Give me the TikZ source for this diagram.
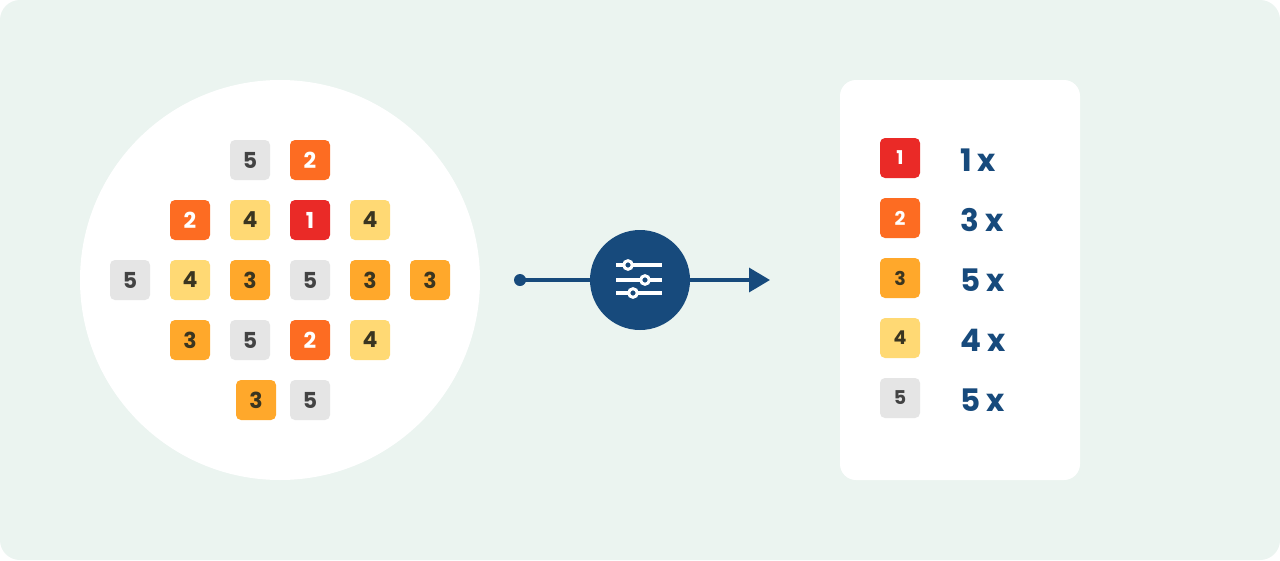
\documentclass[tikz,border=0pt]{standalone}
\usepackage{fontspec}
\setmainfont{Poppins}
\usetikzlibrary{positioning}
\usetikzlibrary{arrows.meta}

\definecolor{bgmint}{HTML}{EBF4F0}
\definecolor{navy}{HTML}{174A7C}
\definecolor{cone}{HTML}{EA2A27}
\definecolor{ctwo}{HTML}{FD6C22}
\definecolor{cthree}{HTML}{FFA82B}
\definecolor{cfour}{HTML}{FFD974}
\definecolor{cfive}{HTML}{E5E5E5}
\definecolor{darknum}{HTML}{3A3520}
\definecolor{graynum}{HTML}{434343}

\tikzset{
	tile/.style={minimum size=40pt, inner sep=0pt, outer sep=0pt, rounded corners=5pt,
		font=\bfseries\fontsize{22}{22}\selectfont},
	tone/.style={tile, fill=cone, text=white},
	ttwo/.style={tile, fill=ctwo, text=white},
	tthree/.style={tile, fill=cthree, text=darknum},
	tfour/.style={tile, fill=cfour, text=darknum},
	tfive/.style={tile, fill=cfive, text=graynum},
	small/.style={font=\bfseries\fontsize{19}{19}\selectfont},
	count/.style={anchor=west, text=navy, inner sep=0pt,
		font=\bfseries\fontsize{31}{31}\selectfont},
	flow/.style={draw=navy, line width=3.5pt}
}

\begin{document}
\begin{tikzpicture}[x=1pt, y=-1pt, node distance=20pt]
	\useasboundingbox (0,0) rectangle (1280,560);
	\fill[white] (0,0) rectangle (1280,560);
	\fill[bgmint, rounded corners=20pt] (0,0) rectangle (1280,560);
	\fill[white] (280,280) circle (200);
	\fill[white, rounded corners=16pt] (840,80) rectangle (1080,480);

	% bag of tiles
	\node [tfive] (a1) at (250,160) {5};
	\node [ttwo, right=of a1] (a2) {2};
	\node [ttwo] (b1) at (190,220) {2};
	\node [tfour, right=of b1] (b2) {4};
	\node [tone, right=of b2] (b3) {1};
	\node [tfour, right=of b3] (b4) {4};
	\node [tfive] (c1) at (130,280) {5};
	\node [tfour, right=of c1] (c2) {4};
	\node [tthree, right=of c2] (c3) {3};
	\node [tfive, right=of c3] (c4) {5};
	\node [tthree, right=of c4] (c5) {3};
	\node [tthree, right=of c5] (c6) {3};
	\node [tthree] (d1) at (190,340) {3};
	\node [tfive, right=of d1] (d2) {5};
	\node [ttwo, right=of d2] (d3) {2};
	\node [tfour, right=of d3] (d4) {4};
	\node [tthree] (e1) at (256,400) {3};
	\node [tfive] (e2) at (310,400) {5};

	% filter
	\coordinate (start) at (520,280);
	\coordinate (stop) at (770,280);
	\node [circle, fill=navy, minimum size=100pt, inner sep=0pt] (filter) at (640,280) {};
	\fill[navy] (start) circle (6);
	\draw [flow] (start) -- (filter);
	\draw [flow, -{Triangle[length=21pt, width=24pt]}] (filter) -- (stop);
	\begin{scope}[shift={(filter.center)}, white, line width=3.5pt]
		\draw (-24,-15) -- (22,-15);
		\draw (-24,0) -- (22,0);
		\draw (-24,13) -- (22,13);
		\draw [fill=navy, line width=3pt] (-12,-15) circle (4.3);
		\draw [fill=navy, line width=3pt] (5,0) circle (4.3);
		\draw [fill=navy, line width=3pt] (-7,13) circle (4.3);
	\end{scope}

	% tally
	\node [tone, small] (k1) at (900,158) {1};
	\node [ttwo, small, below=of k1] (k2) {2};
	\node [tthree, small, below=of k2] (k3) {3};
	\node [tfour, small, below=of k3] (k4) {4};
	\node [tfive, small, below=of k4] (k5) {5};
	\node [count] (n1) at (960,160) {1\kern6pt x};
	\node [count] (n2) at (960,220) {3 x};
	\node [count] (n3) at (960,280) {5 x};
	\node [count] (n4) at (960,340) {4 x};
	\node [count] (n5) at (960,400) {5 x};
\end{tikzpicture}
\end{document}
